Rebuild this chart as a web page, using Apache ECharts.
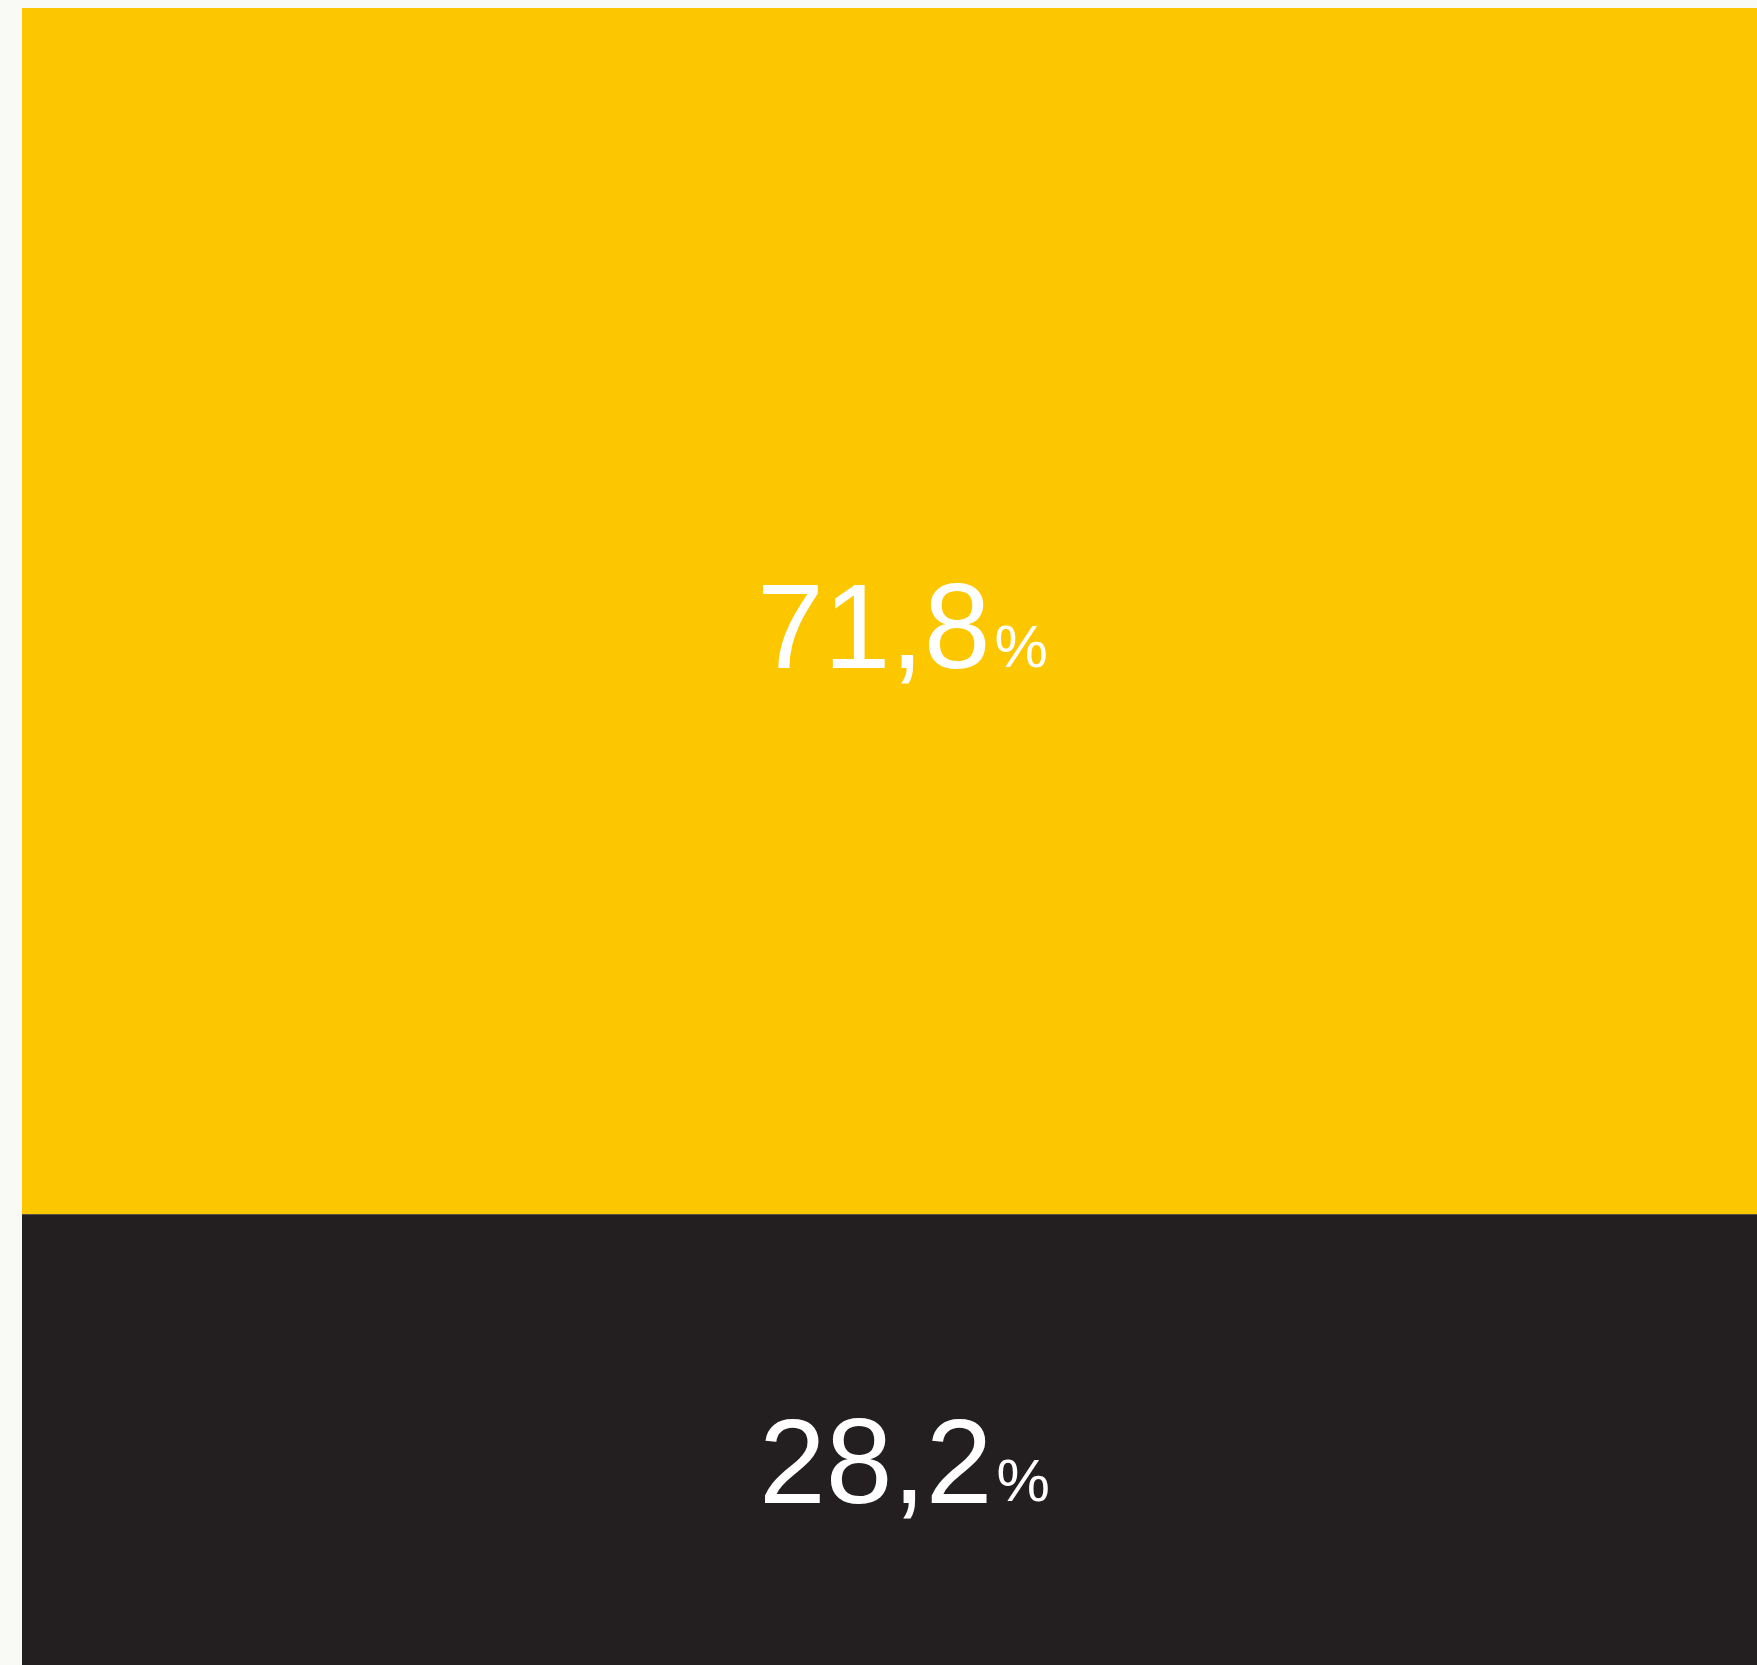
<!DOCTYPE html>
<html>
<head>
<meta charset="utf-8">
<script src="https://cdn.jsdelivr.net/npm/echarts@6/dist/echarts.min.js"></script>
<style>
  html, body { margin: 0; padding: 0; background: #f9faf5; }
  #chart { width: 1757px; height: 1665px; }
</style>
</head>
<body>
<div id="chart"></div>
<script>
// Share split, in percent
const categories = ['Total'];
const segmentNames = ['Sí', 'No'];
const segmentValues = [71.8, 28.2];
const segmentColors = ['#fdc700', '#231f20'];

const chart = echarts.init(document.getElementById('chart'));

const fmt = v => v.toFixed(1).replace('.', ',');

// the stacked column runs past the bottom edge of the page
const visibleMax = 98.63;

const labelOffsets = [[13, 19], [15, 25]];

const series = segmentValues.map((v, i) => ({
  name: segmentNames[i],
  type: 'bar',
  stack: 'total',
  barWidth: '100%',
  clip: true,
  data: [v],
  itemStyle: { color: segmentColors[i] },
  label: {
    show: true,
    position: 'inside',
    offset: labelOffsets[i],
    formatter: p => '{v|' + fmt(p.value) + '}{p|%}',
    rich: {
      v: { fontFamily: 'Liberation Sans', fontSize: 120, color: '#ffffff', lineHeight: 130, verticalAlign: 'bottom' },
      p: { fontFamily: 'Liberation Sans', fontSize: 60, color: '#ffffff', lineHeight: 130, verticalAlign: 'bottom', padding: [0, 0, 15, 4] }
    }
  }
}));

chart.setOption({
  backgroundColor: '#f9faf5',
  animation: false,
  grid: { left: 22, top: 8, right: 0, bottom: 0 },
  xAxis: {
    type: 'category',
    data: categories,
    show: false,
    boundaryGap: true
  },
  yAxis: {
    type: 'value',
    min: 0,
    max: visibleMax,
    inverse: true,
    show: false
  },
  series: series
});
</script>
</body>
</html>
